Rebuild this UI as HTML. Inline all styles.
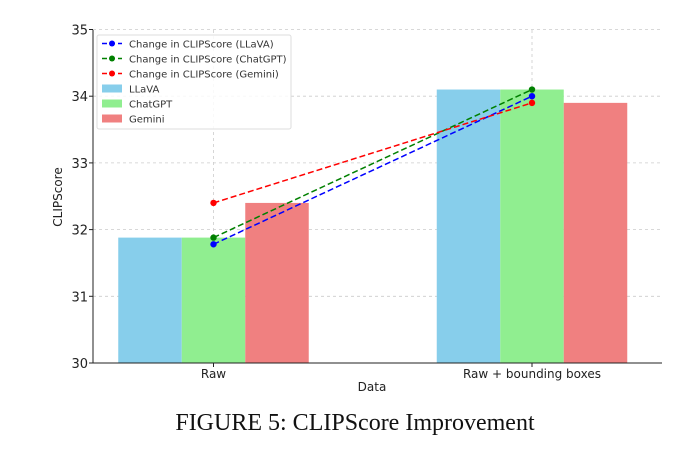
<!DOCTYPE html>
<html><head><meta charset="utf-8"><style>
body{margin:0;background:#fff;}
svg{display:block;font-family:"DejaVu Sans","Liberation Sans",sans-serif;}
</style></head><body>
<svg id="chart" width="687" height="450">
<g id="grid"></g>
<g id="bars"></g>
<g id="lines"></g>
<g id="axes"></g>
<g id="legend"></g>
<text x="62" y="197" transform="rotate(-90 62 197)" text-anchor="middle" font-size="12" fill="#222">CLIPScore</text>
<text x="372" y="391" text-anchor="middle" font-size="12" fill="#222">Data</text>
<text x="355" y="430" text-anchor="middle" font-size="24" fill="#111" font-family="Liberation Serif, serif">FIGURE 5: CLIPScore Improvement</text>
</svg>
<script>
const categories=["Raw","Raw + bounding boxes"];
const seriesNames=["LLaVA","ChatGPT","Gemini"];
const llava=[31.88,34.1];
const chatgpt=[31.88,34.1];
const gemini=[32.4,33.9];
const llavaChange=[31.78,34.0];
const chatgptChange=[31.88,34.1];
const geminiChange=[32.4,33.9];
const yTicks=[30,31,32,33,34,35];

const NS="http://www.w3.org/2000/svg";
function mk(p,t,a){const e=document.createElementNS(NS,t);for(const k in a)e.setAttribute(k,a[k]);p.appendChild(e);return e;}
const y=v=>363-(v-30)*66.7;
const x=i=>213.5+i*318.5;
const bw=63.5;
const G=document.getElementById('grid'),B=document.getElementById('bars'),L=document.getElementById('lines'),A=document.getElementById('axes'),LG=document.getElementById('legend');
yTicks.forEach(t=>{
  const g=mk(G,'line',{x1:93,x2:662,y1:y(t),y2:y(t),stroke:'#ccc','stroke-dasharray':'3,3','stroke-width':0.8});
  
  
  const tx=mk(A,'text',{x:88,y:y(t)+5,'text-anchor':'end','font-size':13,fill:'#222'});tx.textContent=t;
  
  
});
categories.forEach((c,i)=>{
  const g=mk(G,'line',{x1:x(i),x2:x(i),y1:30,y2:363,stroke:'#ccc','stroke-dasharray':'3,3','stroke-width':0.8});
  
  
  const tx=mk(A,'text',{x:x(i),y:378,'text-anchor':'middle','font-size':12,fill:'#222'});tx.textContent=c;
  
  
});
const barSeries=[llava,chatgpt,gemini],barCols=['#87ceeb','#90ee90','#f08080'];
barSeries.forEach((s,si)=>s.forEach((v,i)=>{
  const r=mk(B,'rect',{x:x(i)+(si-1.5)*bw,y:y(v),width:bw,height:y(30)-y(v),fill:barCols[si]});
  
  
}));
const lineSeries=[llavaChange,chatgptChange,geminiChange],lineCols=['#0000ff','#008000','#ff0000'];
lineSeries.forEach((s,si)=>{
  const p=mk(L,'polyline',{points:s.map((v,i)=>x(i)+','+y(v)).join(' '),fill:'none',stroke:lineCols[si],'stroke-width':1.5,'stroke-dasharray':'6,3'});
  
  
  s.forEach((v,i)=>{const c=mk(L,'circle',{cx:x(i),cy:y(v),r:3.2,fill:lineCols[si]});
    
    });
});
const ax=mk(A,'line',{x1:93,x2:93,y1:30,y2:363,stroke:'#222','stroke-width':1});

const bx=mk(A,'line',{x1:93,x2:662,y1:363,y2:363,stroke:'#222','stroke-width':1});

yTicks.forEach(t=>mk(A,'line',{x1:89,x2:93,y1:y(t),y2:y(t),stroke:'#222'}));
categories.forEach((c,i)=>mk(A,'line',{x1:x(i),x2:x(i),y1:363,y2:367,stroke:'#222'}));
const lb=mk(LG,'rect',{x:97,y:35,width:194,height:94,fill:'#fff','fill-opacity':0.85,stroke:'#ddd',rx:2});

const entries=[['Change in CLIPScore (LLaVA)','line',lineCols[0]],['Change in CLIPScore (ChatGPT)','line',lineCols[1]],['Change in CLIPScore (Gemini)','line',lineCols[2]],['LLaVA','rect',barCols[0]],['ChatGPT','rect',barCols[1]],['Gemini','rect',barCols[2]]];
entries.forEach((e,k)=>{
  const cy=43.5+k*15;
  if(e[1]==='line'){mk(LG,'line',{x1:102,x2:122,y1:cy,y2:cy,stroke:e[2],'stroke-width':1.5,'stroke-dasharray':'5,3'});mk(LG,'circle',{cx:112,cy:cy,r:3,fill:e[2]});}
  else mk(LG,'rect',{x:102,y:cy-4,width:20,height:8,fill:e[2]});
  const t=mk(LG,'text',{x:129,y:cy+4,'font-size':10,fill:'#333'});t.textContent=e[0];
  
  
});
</script>
</body></html>
